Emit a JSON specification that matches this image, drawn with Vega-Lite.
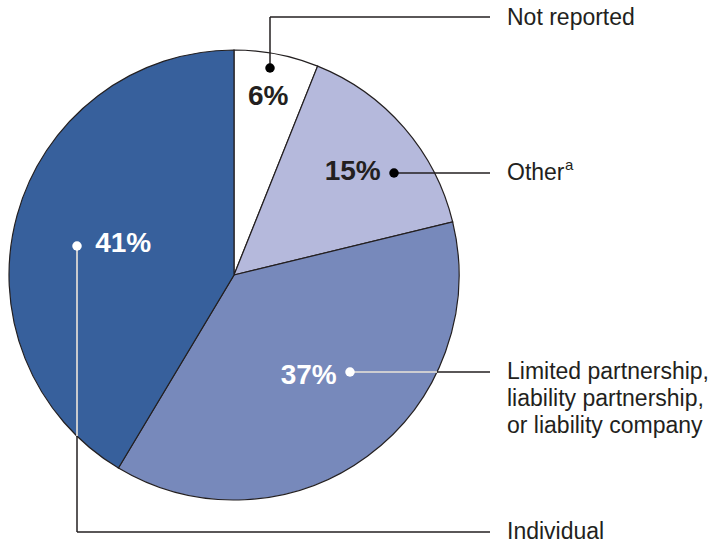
{
  "$schema": "https://vega.github.io/schema/vega-lite/v6.json",
  "width": 718,
  "height": 545,
  "autosize": {"type": "fit", "contains": "padding"},
  "padding": 0,
  "background": "white",
  "config": {"view": {"stroke": null}, "font": "Liberation Sans"},
  "datasets": {
    "shares": [
      {"category": "Not reported", "share": 0.06, "ord": 1},
      {"category": "Other", "share": 0.15, "ord": 2},
      {"category": "Limited partnership, liability partnership, or liability company", "share": 0.37, "ord": 3},
      {"category": "Individual", "share": 0.41, "ord": 4}
    ],
    "leaders": [
      {"x": 270, "y": 68, "x2": 270, "y2": 17, "tone": "dark"},
      {"x": 270, "y": 17, "x2": 490, "y2": 17, "tone": "dark"},
      {"x": 394, "y": 173, "x2": 490, "y2": 173, "tone": "dark"},
      {"x": 350, "y": 372, "x2": 490, "y2": 372, "tone": "dark"},
      {"x": 77, "y": 246, "x2": 77, "y2": 532, "tone": "dark"},
      {"x": 77, "y": 532, "x2": 490, "y2": 532, "tone": "dark"},
      {"x": 350, "y": 372, "x2": 437, "y2": 372, "tone": "light"},
      {"x": 77, "y": 246, "x2": 77, "y2": 436, "tone": "light"}
    ],
    "dots": [
      {"x": 270, "y": 68, "tone": "dark"},
      {"x": 394, "y": 173, "tone": "dark"},
      {"x": 350, "y": 372, "tone": "light"},
      {"x": 77, "y": 246, "tone": "light"}
    ],
    "labels": [
      {"x": 507, "y": 18, "text": "Not reported"},
      {"x": 507, "y": 173, "text": "Other"},
      {"x": 507, "y": 372, "text": "Limited partnership,"},
      {"x": 507, "y": 399, "text": "liability partnership,"},
      {"x": 507, "y": 426, "text": "or liability company"},
      {"x": 507, "y": 532, "text": "Individual"}
    ],
    "sup": [
      {"x": 565, "y": 165, "text": "a"}
    ]
  },
  "layer": [
    {
      "data": {"name": "shares"},
      "mark": {"type": "arc", "outerRadius": 225, "stroke": "#231f20", "strokeWidth": 1.2},
      "encoding": {
        "theta": {"field": "share", "type": "quantitative", "stack": true},
        "order": {"field": "ord", "type": "quantitative"},
        "color": {
          "field": "category", "type": "nominal", "legend": null,
          "scale": {
            "domain": ["Not reported", "Other", "Limited partnership, liability partnership, or liability company", "Individual"],
            "range": ["#ffffff", "#b5b9dc", "#7789bb", "#37609c"]
          }
        },
        "x": {"datum": 234, "type": "quantitative", "scale": {"domain": [0, 718], "nice": false, "zero": false}, "axis": null},
        "y": {"datum": 275, "type": "quantitative", "scale": {"domain": [0, 545], "nice": false, "zero": false, "reverse": true}, "axis": null}
      }
    },
    {
      "data": {"name": "leaders"},
      "transform": [{"filter": "datum.tone === 'dark'"}],
      "mark": {"type": "rule", "color": "#231f20", "strokeWidth": 1.5},
      "encoding": {
        "x": {"field": "x", "type": "quantitative"},
        "y": {"field": "y", "type": "quantitative"},
        "x2": {"field": "x2"},
        "y2": {"field": "y2"}
      }
    },
    {
      "data": {"name": "leaders"},
      "transform": [{"filter": "datum.tone === 'light'"}],
      "mark": {"type": "rule", "color": "#ffffff", "strokeWidth": 1.5},
      "encoding": {
        "x": {"field": "x", "type": "quantitative"},
        "y": {"field": "y", "type": "quantitative"},
        "x2": {"field": "x2"},
        "y2": {"field": "y2"}
      }
    },
    {
      "data": {"name": "dots"},
      "transform": [{"filter": "datum.tone === 'dark'"}],
      "mark": {"type": "circle", "color": "#000000", "opacity": 1, "size": 90},
      "encoding": {
        "x": {"field": "x", "type": "quantitative"},
        "y": {"field": "y", "type": "quantitative"}
      }
    },
    {
      "data": {"name": "dots"},
      "transform": [{"filter": "datum.tone === 'light'"}],
      "mark": {"type": "circle", "color": "#ffffff", "opacity": 1, "size": 90},
      "encoding": {
        "x": {"field": "x", "type": "quantitative"},
        "y": {"field": "y", "type": "quantitative"}
      }
    },
    {
      "data": {"name": "shares"},
      "mark": {"type": "text", "radius": 181, "fontSize": 28, "fontWeight": "bold", "color": "#231f20", "align": "center", "baseline": "middle"},
      "encoding": {
        "theta": {"field": "share", "type": "quantitative", "stack": true},
        "order": {"field": "ord", "type": "quantitative"},
        "x": {"datum": 234, "type": "quantitative"},
        "y": {"datum": 275, "type": "quantitative"},
        "text": {"condition": {"test": "datum.ord === 1", "field": "share", "type": "quantitative", "format": ".0%"}, "value": ""}
      }
    },
    {
      "data": {"name": "shares"},
      "mark": {"type": "text", "radius": 157, "fontSize": 28, "fontWeight": "bold", "color": "#231f20", "align": "center", "baseline": "middle"},
      "encoding": {
        "theta": {"field": "share", "type": "quantitative", "stack": true},
        "order": {"field": "ord", "type": "quantitative"},
        "x": {"datum": 234, "type": "quantitative"},
        "y": {"datum": 275, "type": "quantitative"},
        "text": {"condition": {"test": "datum.ord === 2", "field": "share", "type": "quantitative", "format": ".0%"}, "value": ""}
      }
    },
    {
      "data": {"name": "shares"},
      "mark": {"type": "text", "radius": 126, "fontSize": 28, "fontWeight": "bold", "color": "#ffffff", "align": "center", "baseline": "middle"},
      "encoding": {
        "theta": {"field": "share", "type": "quantitative", "stack": true},
        "order": {"field": "ord", "type": "quantitative"},
        "x": {"datum": 234, "type": "quantitative"},
        "y": {"datum": 275, "type": "quantitative"},
        "text": {"condition": {"test": "datum.ord === 3", "field": "share", "type": "quantitative", "format": ".0%"}, "value": ""}
      }
    },
    {
      "data": {"name": "shares"},
      "mark": {"type": "text", "radius": 115, "fontSize": 28, "fontWeight": "bold", "color": "#ffffff", "align": "center", "baseline": "middle"},
      "encoding": {
        "theta": {"field": "share", "type": "quantitative", "stack": true},
        "order": {"field": "ord", "type": "quantitative"},
        "x": {"datum": 234, "type": "quantitative"},
        "y": {"datum": 275, "type": "quantitative"},
        "text": {"condition": {"test": "datum.ord === 4", "field": "share", "type": "quantitative", "format": ".0%"}, "value": ""}
      }
    },
    {
      "data": {"name": "labels"},
      "mark": {"type": "text", "fontSize": 23, "color": "#231f20", "align": "left", "baseline": "middle"},
      "encoding": {
        "x": {"field": "x", "type": "quantitative"},
        "y": {"field": "y", "type": "quantitative"},
        "text": {"field": "text"}
      }
    },
    {
      "data": {"name": "sup"},
      "mark": {"type": "text", "fontSize": 15, "color": "#231f20", "align": "left", "baseline": "middle"},
      "encoding": {
        "x": {"field": "x", "type": "quantitative"},
        "y": {"field": "y", "type": "quantitative"},
        "text": {"field": "text"}
      }
    }
  ]
}
